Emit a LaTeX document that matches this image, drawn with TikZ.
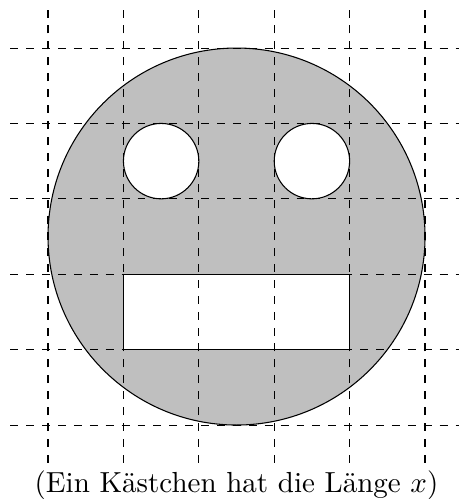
\documentclass[11pt,tikz,border=0pt]{standalone}
\usepackage{amsmath,amssymb}
\usepackage{xcolor}
\usepackage{tikz}
\usetikzlibrary{positioning,calc}
\definecolor{faceGray}{gray}{0.75}
\tikzset{
  gridline/.style={dashed, thin, draw=black},
  face/.style={draw=black, thin, fill=faceGray},
  hole/.style={draw=black, thin, fill=white}
}

\begin{document}
\begin{tikzpicture}[x=1cm,y=1cm]
  \useasboundingbox (-0.637,-0.981) rectangle (5.438,5.637);
  % face, eyes and mouth
  \draw[face] (2.5,2.5) circle (2.5);
  \draw[hole] (1.5,3.5) circle (0.5);
  \draw[hole] (3.5,3.5) circle (0.5);
  \draw[hole] (1,1) rectangle (4,2);
  % grid on top
  \foreach \i in {0,...,5} {
    \draw[gridline] (\i,-0.5) -- (\i,5.5);
    \draw[gridline] (-0.5,\i) -- (5.5,\i);
  }
  \node[anchor=base] (caption) at (2.5,-0.9) {(Ein Kästchen hat die Länge $x$)};
\end{tikzpicture}
\end{document}
